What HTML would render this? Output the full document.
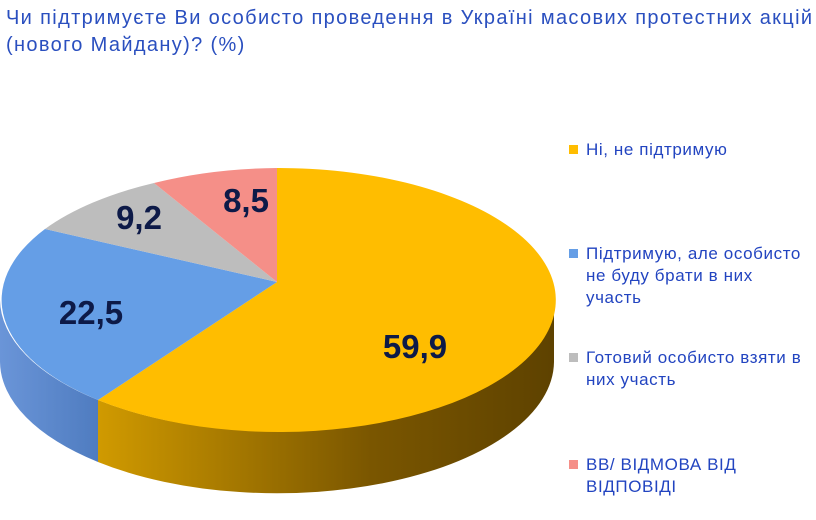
<!DOCTYPE html>
<html><head><meta charset="utf-8"><style>
body{margin:0;background:#fff;width:816px;height:520px;overflow:hidden;font-family:"Liberation Sans",sans-serif}
.t{position:absolute;left:6px;top:5px;color:#2a4fbf;font-size:20px;line-height:27px;letter-spacing:1.35px;white-space:nowrap}
.lg{position:absolute;left:586px;color:#2244c0;font-size:17px;line-height:22px;letter-spacing:0.6px;white-space:nowrap}
.sq{position:absolute;left:569px;width:9px;height:9px}
</style></head><body>
<div class="t">Чи підтримуєте Ви особисто проведення в Україні масових протестних акцій<br>(нового Майдану)? (%)</div>
<svg width="816" height="520" style="position:absolute;left:0;top:0">
<defs>
<linearGradient id="og" x1="98" x2="554" y1="0" y2="0" gradientUnits="userSpaceOnUse">
<stop offset="0" stop-color="#d09a00"/><stop offset="0.6" stop-color="#7a5600"/><stop offset="1" stop-color="#5e4200"/></linearGradient>
<linearGradient id="bg" x1="0" x2="98" y1="0" y2="0" gradientUnits="userSpaceOnUse">
<stop offset="0" stop-color="#6a95d8"/><stop offset="1" stop-color="#4f7cc0"/></linearGradient>
</defs>
<path d="M0,300 A277,132 0 0 0 98,400 L98,462 A277,132 0 0 1 0,362 Z" fill="url(#bg)"/>
<path d="M98,400 A277,132 0 0 0 554,300 L554,362 A277,132 0 0 1 98,462 Z" fill="url(#og)"/>
<path d="M277,282 L277,168 A277,132 0 1 1 98,400 Z" fill="#ffbd00"/>
<path d="M277,282 L98,400 A277,132 0 0 1 45,229 Z" fill="#659ee6"/>
<path d="M277,282 L45,229 A277,132 0 0 1 154,183 Z" fill="#bdbdbd"/>
<path d="M277,282 L154,183 A277,132 0 0 1 277,168 Z" fill="#f58f88"/>
<g font-family="Liberation Sans, sans-serif" font-weight="bold" font-size="33" fill="#0d1a48" text-anchor="middle">
<text x="415" y="358">59,9</text>
<text x="91" y="324">22,5</text>
<text x="139" y="229">9,2</text>
<text x="246" y="212">8,5</text>
</g>
</svg>
<div class="sq" style="top:145px;background:#ffbd00"></div>
<div class="lg" style="top:139px">Ні, не підтримую</div>
<div class="sq" style="top:249px;background:#659ee6"></div>
<div class="lg" style="top:243px">Підтримую, але особисто<br>не буду брати в них<br>участь</div>
<div class="sq" style="top:353px;background:#bdbdbd"></div>
<div class="lg" style="top:347px">Готовий особисто взяти в<br>них участь</div>
<div class="sq" style="top:460px;background:#f58f88"></div>
<div class="lg" style="top:454px">ВВ/ ВІДМОВА ВІД<br>ВІДПОВІДІ</div>
</body></html>
